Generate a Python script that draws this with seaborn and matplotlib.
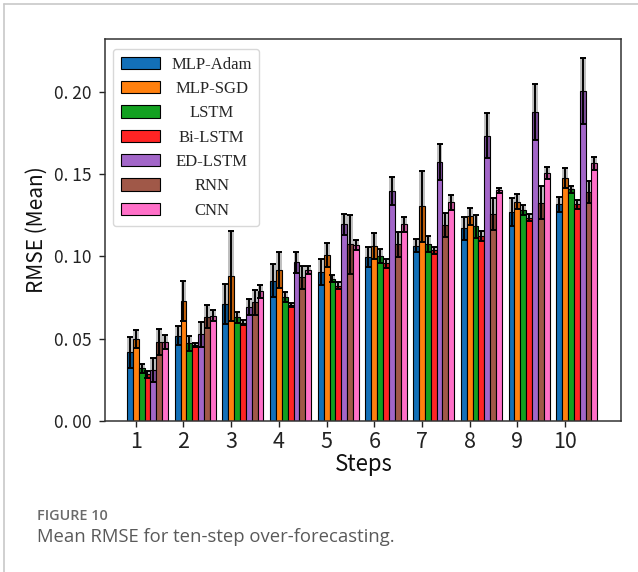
import numpy as np
import pandas as pd
import matplotlib
matplotlib.use("Agg")
import matplotlib.pyplot as plt
import matplotlib.transforms as mtransforms
from matplotlib.lines import Line2D
import seaborn as sns

steps = ["1", "2", "3", "4", "5", "6", "7", "8", "9", "10"]
models = ["MLP-Adam", "MLP-SGD", "LSTM", "Bi-LSTM", "ED-LSTM", "RNN", "CNN"]

mlp_adam = [0.0418, 0.0519, 0.0711, 0.0853, 0.0906, 0.0995, 0.1066, 0.1171, 0.1269, 0.1317]
mlp_sgd  = [0.0498, 0.0728, 0.0881, 0.0918, 0.1011, 0.1064, 0.1305, 0.1244, 0.1333, 0.1475]
lstm     = [0.0320, 0.0472, 0.0630, 0.0756, 0.0865, 0.1003, 0.1076, 0.1183, 0.1283, 0.1408]
bi_lstm  = [0.0284, 0.0462, 0.0598, 0.0703, 0.0823, 0.0959, 0.1038, 0.1123, 0.1236, 0.1317]
ed_lstm  = [0.0308, 0.0527, 0.0693, 0.0965, 0.1195, 0.1400, 0.1576, 0.1734, 0.1880, 0.2008]
rnn      = [0.0480, 0.0634, 0.0721, 0.0873, 0.1074, 0.1074, 0.1191, 0.1256, 0.1327, 0.1394]
cnn      = [0.0480, 0.0640, 0.0788, 0.0918, 0.1070, 0.1195, 0.1329, 0.1402, 0.1506, 0.1566]

err_mlp_adam = [0.0095, 0.0060, 0.0120, 0.0100, 0.0077, 0.0060, 0.0040, 0.0070, 0.0085, 0.0046]
err_mlp_sgd  = [0.0053, 0.0120, 0.0276, 0.0110, 0.0073, 0.0077, 0.0217, 0.0053, 0.0045, 0.0060]
err_lstm     = [0.0027, 0.0045, 0.0033, 0.0030, 0.0023, 0.0040, 0.0050, 0.0070, 0.0030, 0.0020]
err_bi_lstm  = [0.0020, 0.0015, 0.0016, 0.0012, 0.0020, 0.0026, 0.0022, 0.0030, 0.0020, 0.0026]
err_ed_lstm  = [0.0073, 0.0077, 0.0047, 0.0064, 0.0063, 0.0085, 0.0110, 0.0136, 0.0170, 0.0200]
err_rnn      = [0.0080, 0.0070, 0.0075, 0.0070, 0.0180, 0.0077, 0.0075, 0.0098, 0.0100, 0.0067]
err_cnn      = [0.0040, 0.0035, 0.0040, 0.0024, 0.0030, 0.0047, 0.0045, 0.0015, 0.0035, 0.0040]

colors = ["#1370b8", "#ff800e", "#12a020", "#ff2424", "#a266c8", "#a05848", "#ff70c8"]

ytick_vals = [0.00, 0.05, 0.10, 0.15, 0.20]
ytick_labels = ["0. 00", "0. 05", "0. 10", "0. 15", "0. 20"]

means = [mlp_adam, mlp_sgd, lstm, bi_lstm, ed_lstm, rnn, cnn]
errs = [err_mlp_adam, err_mlp_sgd, err_lstm, err_bi_lstm, err_ed_lstm, err_rnn, err_cnn]

rows = []
for m, vals in zip(models, means):
    for s, v in zip(steps, vals):
        rows.append({"Steps": s, "RMSE": v, "Model": m})
df = pd.DataFrame(rows)

sns.set_theme(style="ticks")
plt.rcParams["font.family"] = ["Noto Sans CJK SC", "DejaVu Sans"]

W, H = 638, 572
fig = plt.figure(figsize=(W / 100, H / 100), dpi=100)
ax = fig.add_axes([105 / W, 1 - 421 / H, (621 - 105) / W, (421 - 39) / H])

group_w = 0.86
sns.barplot(data=df, x="Steps", y="RMSE", hue="Model", order=steps, hue_order=models,
            palette=colors, width=group_w, edgecolor="black", linewidth=0.8,
            errorbar=None, saturation=1, ax=ax, zorder=2)

# error shading + error bars
for cont, err, mv in zip(ax.containers, errs, means):
    xs = np.array([p.get_x() + p.get_width() / 2 for p in cont.patches])
    bw = cont.patches[0].get_width()
    e = np.array(err)
    mm = np.array(mv)
    ax.bar(xs, 2 * e, bottom=mm - e, width=bw, color="black", alpha=0.25,
           linewidth=0, zorder=3)
    ax.errorbar(xs, mm, yerr=e, fmt="none", ecolor="black", elinewidth=1.4,
                capsize=2.5, capthick=1.4, zorder=4)

bar_w = group_w / len(models)
ax.set_xticks(np.arange(len(steps)) - 2 * bar_w)
ax.set_xticklabels(steps)
ax.set_xlim(-0.891, 9.927)
ax.set_ylim(0, 0.2322)
ax.set_yticks(ytick_vals)
ax.set_yticklabels(ytick_labels)
ax.tick_params(axis="y", labelsize=12.5, length=4, width=1, pad=6, colors="#222222")
ax.tick_params(axis="x", labelsize=15.5, length=4, width=1, pad=3, colors="#222222")
for sp in ax.spines.values():
    sp.set_color("#333333")
    sp.set_linewidth(1.1)

ax.set_xlabel("Steps", fontsize=16, va="center", color="#111111")
ax.xaxis.set_label_coords((364 - 105) / 516, (421 - 465) / 382)
ax.set_ylabel("RMSE (Mean)", fontsize=15, va="center", color="#111111")
ax.yaxis.set_label_coords((37 - 105) / 516, 0.5)

handles, labels = ax.get_legend_handles_labels()
if ax.get_legend() is not None:
    ax.get_legend().remove()
leg = ax.legend(handles[:7], labels[:7], loc="upper left", bbox_to_anchor=(0.0155, 0.974),
                borderaxespad=0, prop={"family": "Liberation Serif", "size": 12},
                handlelength=2.34, handleheight=0.76, handletextpad=0.7,
                labelspacing=0.5, borderpad=0.46, frameon=True, fancybox=True,
                edgecolor="#d8d8d8", framealpha=1)
for h in leg.legend_handles:
    h.set_edgecolor("black")
    h.set_linewidth(0.8)

# card border and caption
fig.add_artist(Line2D([4 / W, 4 / W], [0, 1 - 4 / H], transform=fig.transFigure,
                      color="#c8c8c8", lw=1.2))
fig.add_artist(Line2D([4 / W, 1], [1 - 4 / H, 1 - 4 / H], transform=fig.transFigure,
                      color="#c8c8c8", lw=1.2))
fig.text(37 / W, 1 - 516 / H, "FIGURE 10", fontsize=10.4, family="Open Sans",
         fontweight="semibold", color="#6a6a6a", va="center", ha="left")
fig.text(37 / W, 1 - 537 / H, "Mean RMSE for ten-step over-forecasting.", fontsize=13.3,
         family="Open Sans", color="#5a5a5a", va="center", ha="left")

# center legend texts
fig.canvas.draw()
r = fig.canvas.get_renderer()
texts = leg.get_texts()
widths = [t.get_window_extent(r).width for t in texts]
maxw = max(widths)
for t, w in zip(texts, widths):
    t.set_transform(t.get_transform() + mtransforms.Affine2D().translate((maxw - w) / 2, 0))

fig.savefig("out.png", dpi=100)
